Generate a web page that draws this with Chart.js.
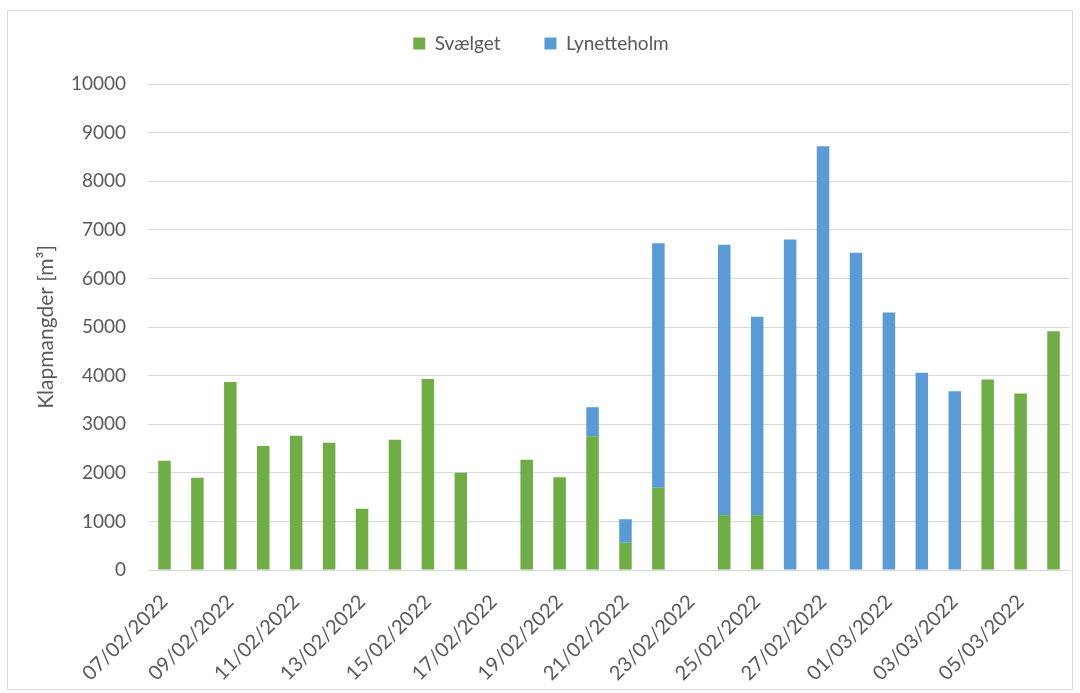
<!DOCTYPE html>
<html lang="da">
<head>
  <meta charset="UTF-8">
  <title>Klapmangder</title>
  <style>
    html, body { margin: 0; padding: 0; background: #fff; }
    #wrap { position: relative; width: 1080px; height: 693px; }
    #frame { position: absolute; left: 7px; top: 10px; width: 1066px; height: 680px; border: 1px solid #d9d9d9; box-sizing: border-box; pointer-events: none; }
  </style>
</head>
<body>
  <div id="wrap">
    <canvas id="klapChart" width="1080" height="693"></canvas>
    <div id="frame"></div>
  </div>

  <script src="https://cdn.jsdelivr.net/npm/chart.js"></script>
  <script>
    const dates = [
      '07/02/2022', '08/02/2022', '09/02/2022', '10/02/2022', '11/02/2022', '12/02/2022', '13/02/2022',
      '14/02/2022', '15/02/2022', '16/02/2022', '17/02/2022', '18/02/2022', '19/02/2022', '20/02/2022',
      '21/02/2022', '22/02/2022', '23/02/2022', '24/02/2022', '25/02/2022', '26/02/2022', '27/02/2022',
      '28/02/2022', '01/03/2022', '02/03/2022', '03/03/2022', '04/03/2022', '05/03/2022', '06/03/2022'
    ];
    const svaelget = [2250, 1900, 3870, 2550, 2760, 2620, 1260, 2680, 3930, 2000, 0, 2270, 1910, 2750,
                      560, 1690, 0, 1130, 1130, 0, 0, 0, 0, 0, 0, 3920, 3630, 4910];
    const lynetteholm = [0, 0, 0, 0, 0, 0, 0, 0, 0, 0, 0, 0, 0, 600,
                         485, 5035, 0, 5560, 4080, 6800, 8720, 6530, 5300, 4060, 3680, 0, 0, 0];

    const textColor = '#595959';
    const gridColor = '#d9d9d9';
    const fontFamily = 'Lato, "Open Sans", sans-serif';

    // extra space between legend and plot area
    const legendGap = {
      id: 'legendGap',
      beforeInit(chart) {
        const origFit = chart.legend.fit;
        chart.legend.fit = function () {
          origFit.bind(chart.legend)();
          this.height += 21;
        };
      }
    };

    const ctx = document.getElementById('klapChart').getContext('2d');
    new Chart(ctx, {
      type: 'bar',
      data: {
        labels: dates,
        datasets: [
          {
            label: 'Svælget',
            data: svaelget,
            backgroundColor: '#70AD47',
            barPercentage: 0.38,
            categoryPercentage: 1
          },
          {
            label: 'Lynetteholm',
            data: lynetteholm,
            backgroundColor: '#5B9BD5',
            barPercentage: 0.38,
            categoryPercentage: 1
          }
        ]
      },
      options: {
        responsive: false,
        animation: false,
        layout: { padding: { top: -10, right: 10, bottom: 0, left: 12 } },
        plugins: {
          legend: {
            position: 'top',
            labels: {
              boxWidth: 12,
              boxHeight: 12,
              padding: 44,
              color: textColor,
              font: { family: fontFamily, size: 19 }
            }
          },
          tooltip: { enabled: false }
        },
        scales: {
          x: {
            stacked: true,
            grid: { display: false, drawTicks: false },
            border: { display: false },
            ticks: {
              autoSkip: false,
              minRotation: 45,
              maxRotation: 45,
              padding: 20,
              color: textColor,
              font: { family: fontFamily, size: 20 },
              callback: (val, i) => (i % 2 === 0 ? dates[i] : '')
            },
            afterFit(scale) {
              scale.height = 123;
              scale.paddingRight = 0; // last label is blank, no room needed
            }
          },
          y: {
            stacked: true,
            min: 0,
            max: 10000,
            grid: { color: gridColor, lineWidth: 1, drawTicks: false },
            border: { display: false },
            ticks: {
              stepSize: 1000,
              padding: 22,
              color: textColor,
              font: { family: fontFamily, size: 19 },
              callback: (val) => String(val)
            },
            title: {
              display: true,
              text: 'Klapmangder [m³]',
              color: textColor,
              padding: { top: 22, bottom: 4 },
              font: { family: fontFamily, size: 21 }
            },
            afterFit(scale) { scale.width = 136; }
          }
        }
      },
      plugins: [legendGap]
    });
  </script>
</body>
</html>
